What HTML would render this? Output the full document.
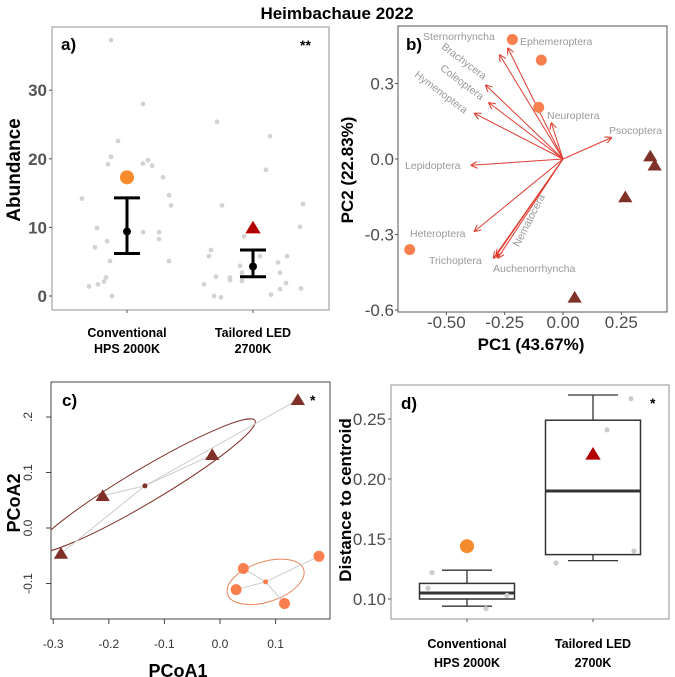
<!DOCTYPE html>
<html><head><meta charset="utf-8"><style>
body{margin:0;background:#fff;}
svg{display:block;font-family:"Liberation Sans",sans-serif;}
</style></head><body>
<svg id="fig" width="675" height="677" viewBox="0 0 675 677" xmlns="http://www.w3.org/2000/svg">
<text x="337" y="19" text-anchor="middle" font-size="17" font-weight="bold">Heimbachaue 2022</text>
<g id="pa"></g>
<g id="pb"></g>
<g id="pc"></g>
<g id="pd"></g>
</svg>
<script>
// ---------- Panel a data ----------
const aCats = ["Conventional|HPS 2000K", "Tailored LED|2700K"];
const aTicks = [0, 10, 20, 30];
const aMean = [9.4, 4.3];
const aLow = [6.2, 2.8];
const aHigh = [14.3, 6.7];
const aMarker = [17.3, 9.8];
const aConvVals = [37.3,28,22.6,20.3,19.2,19.3,19.8,19,17.3,14.2,14.7,13.2,9.9,9.3,9.3,8.3,8,7.1,5.1,5.1,2.7,2.1,1.7,1.4,0];
const aConvJit = [-16,16,-9,-16,-19,16,21,25,36,-45,42,44,-30,16,32,32,-20,-32,-17,42,-21,-23,-29,-38,-15];
const aLedVals = [25.4,23.3,18.4,13.4,13.2,10.1,8.7,6.7,5.8,5.8,5.8,4.9,4.4,3.4,3.4,2.8,2.7,2.3,2.2,1.9,1.7,1,1.1,0.2,0,-0.2];
const aLedJit = [-36,17,13,50,-31,47,-9,-42,-44,7,34,25,-13,-11,27,-37,-23,-23,-11,33,-49,27,48,18,-39,-32];
// ---------- Panel b data ----------
const bTicksX = [-0.5, -0.25, 0, 0.25];
const bTicksXLab = ["-0.50","-0.25","0.00","0.25"];
const bTicksY = [0.3, 0, -0.3, -0.6];
const bTicksYLab = ["0.3","0.0","-0.3","-0.6"];
const bSpecies = ["Sternorrhyncha","Ephemeroptera","Brachycera","Coleoptera","Hymenoptera","Neuroptera","Psocoptera","Lepidoptera","Heteroptera","Trichoptera","Auchenorrhyncha","Nematocera"];
const bArrowX = [-0.271,-0.236,-0.331,-0.317,-0.379,-0.05,0.207,-0.393,-0.379,-0.297,-0.279,-0.286];
const bArrowY = [0.413,0.44,0.293,0.223,0.181,0.143,0.085,-0.025,-0.287,-0.393,-0.393,-0.384];
const bHpsX = [-0.217,-0.093,-0.104,-0.657];
const bHpsY = [0.475,0.393,0.205,-0.36];
const bLedX = [0.374,0.393,0.267,0.05];
const bLedY = [0.011,-0.025,-0.151,-0.55];
// ---------- Panel c data ----------
const cTicksX = [-0.3,-0.2,-0.1,0.0,0.1];
const cTicksXLab = ["-0.3","-0.2","-0.1","0.0","0.1"];
const cTicksY = [0.2,0.1,0.0,-0.1];
const cTicksYLab = [".2","0.1","0.0","-0.1"];
const cLedX = [0.14,-0.014,-0.211,-0.286];
const cLedY = [0.231,0.132,0.058,-0.046];
const cLedCentroid = [-0.135,0.076];
const cHpsX = [0.178,0.042,0.029,0.116];
const cHpsY = [-0.051,-0.073,-0.111,-0.136];
const cHpsCentroid = [0.082,-0.097];
// ---------- Panel d data ----------
const dCats = ["Conventional|HPS 2000K", "Tailored LED|2700K"];
const dTicks = [0.10,0.15,0.20,0.25];
const dTickLab = ["0.10","0.15","0.20","0.25"];
const dQ1 = [0.100,0.137];
const dMed = [0.105,0.190];
const dQ3 = [0.113,0.249];
const dWLo = [0.094,0.132];
const dWHi = [0.124,0.270];
const dMean = [0.144,0.220];
const dPtsConv = [0.122,0.109,0.103,0.092];
const dPtsConvJit = [-35,-39,40,19];
const dPtsLed = [0.130,0.241,0.267,0.140];
const dPtsLedJit = [-37,14,38,41];

const NS="http://www.w3.org/2000/svg";
function mk(parent,tag,attrs,text){const e=document.createElementNS(NS,tag);for(const k in attrs)e.setAttribute(k,attrs[k]);if(text!==undefined)e.textContent=text;parent.appendChild(e);return e;}
function tri(cx,cy,s){return `${cx},${cy-s} ${cx-s*1.1},${cy+s*0.8} ${cx+s*1.1},${cy+s*0.8}`;}

// ===== Panel a =====
(function(){
const g=document.getElementById('pa');
const L=52,R=329,T=27,B=310;
const y=v=>296-6.86*v;
const xc=[127,253];
let f=mk(g,'rect',{x:L,y:T,width:R-L,height:B-T,fill:'none',stroke:'#aaa','stroke-width':1.3});

aTicks.forEach(t=>{let e=mk(g,'text',{x:47,y:y(t)+6,'text-anchor':'end','font-size':17,'font-weight':'bold',fill:'#555'},String(t));

mk(g,'line',{x1:L-3,x2:L,y1:y(t),y2:y(t),stroke:'#555'});});
let yt=mk(g,'text',{x:0,y:0,transform:'translate(20,170) rotate(-90)','text-anchor':'middle','font-size':19,'font-weight':'bold'},'Abundance');

aConvVals.forEach((v,i)=>{let c=mk(g,'circle',{cx:xc[0]+aConvJit[i],cy:y(v),r:2.4,fill:'#d3d3d3'});});
aLedVals.forEach((v,i)=>{let c=mk(g,'circle',{cx:xc[1]+aLedJit[i],cy:y(v),r:2.4,fill:'#d3d3d3'});});
aCats.forEach((c,i)=>{
  const x=xc[i];
  mk(g,'line',{x1:x,x2:x,y1:y(aLow[i]),y2:y(aHigh[i]),stroke:'#000','stroke-width':3});
  mk(g,'line',{x1:x-13,x2:x+13,y1:y(aLow[i]),y2:y(aLow[i]),stroke:'#000','stroke-width':3});
  mk(g,'line',{x1:x-13,x2:x+13,y1:y(aHigh[i]),y2:y(aHigh[i]),stroke:'#000','stroke-width':3});
  let m=mk(g,'circle',{cx:x,cy:y(aMean[i]),r:4,fill:'#000'});
  let mm = i===0? mk(g,'circle',{cx:x,cy:y(aMarker[i]),r:7,fill:'#f78a2a'}) : mk(g,'polygon',{points:tri(x,y(aMarker[i])-1,7),fill:'#b30000'});
  
  mk(g,'line',{x1:x,x2:x,y1:B,y2:B+3,stroke:'#555'});
  const p=c.split('|');
  let t1=mk(g,'text',{x:x,y:337,'text-anchor':'middle','font-size':12.5,'font-weight':'bold'},p[0]);
  let t2=mk(g,'text',{x:x,y:353,'text-anchor':'middle','font-size':12.5,'font-weight':'bold'},p[1]);
});
let pl=mk(g,'text',{x:61,y:50,'font-size':17,'font-weight':'bold'},'a)');
let sg=mk(g,'text',{x:300,y:50,'font-size':14,'font-weight':'bold'},'**');
})();

// ===== Panel b =====
(function(){
const g=document.getElementById('pb');
const L=398,R=667,T=26,B=312;
const x=v=>563+v*233.3, y=v=>159-v*251.7;
mk(g,'defs',{}).innerHTML='<marker id="ah" viewBox="0 0 10 10" refX="9" refY="5" markerWidth="7" markerHeight="7" orient="auto"><path d="M0,0 L10,5 L0,10" fill="none" stroke="#e03c31" stroke-width="1.5"/></marker>';
let f=mk(g,'rect',{x:L,y:T,width:R-L,height:B-T,fill:'none',stroke:'#555','stroke-width':1});

bTicksY.forEach((t,i)=>{let e=mk(g,'text',{x:394,y:y(t)+6,'text-anchor':'end','font-size':17,fill:'#4d4d4d'},bTicksYLab[i]);mk(g,'line',{x1:L-3,x2:L,y1:y(t),y2:y(t),stroke:'#555'});});
bTicksX.forEach((t,i)=>{let e=mk(g,'text',{x:x(t),y:328,'text-anchor':'middle','font-size':17,fill:'#4d4d4d'},bTicksXLab[i]);mk(g,'line',{x1:x(t),x2:x(t),y1:B,y2:B+3,stroke:'#555'});});
let yt=mk(g,'text',{x:0,y:0,transform:'translate(353,170) rotate(-90)','text-anchor':'middle','font-size':17,'font-weight':'bold'},'PC2 (22.83%)');
let xt=mk(g,'text',{x:531,y:350,'text-anchor':'middle','font-size':17,'font-weight':'bold'},'PC1 (43.67%)');
bSpecies.forEach((s,i)=>{let a=mk(g,'line',{x1:x(0),y1:y(0),x2:x(bArrowX[i]),y2:y(bArrowY[i]),stroke:'#e03c31','stroke-width':1,'marker-end':'url(#ah)'});});
const labs=[["Sternorrhyncha",423,40,0],["Ephemeroptera",520,45,0],["Brachycera",462,64,37],["Coleoptera",460,85,37],["Hymenoptera",439,95,37],["Neuroptera",547,119,0],["Psocoptera",609,134,0],["Lepidoptera",405,169,0],["Heteroptera",410,237,0],["Trichoptera",429,264,0],["Auchenorrhyncha",493,272,0],["Nematocera",532,222,-63]];
labs.forEach(l=>{let t;if(l[3]){t=mk(g,'text',{x:0,y:0,transform:`translate(${l[1]},${l[2]}) rotate(${l[3]})`,'text-anchor':'middle','font-size':10.5,fill:'#999'},l[0]);}else{t=mk(g,'text',{x:l[1],y:l[2],'font-size':10.5,fill:'#999'},l[0]);}});
bHpsX.forEach((v,i)=>{let c=mk(g,'circle',{cx:x(v),cy:y(bHpsY[i]),r:5.5,fill:'#f97f4f'});});
bLedX.forEach((v,i)=>{let c=mk(g,'polygon',{points:tri(x(v),y(bLedY[i]),6.5),fill:'#7f3128'});});
let pl=mk(g,'text',{x:406,y:50,'font-size':17,'font-weight':'bold'},'b)');
})();

// ===== Panel c =====
(function(){
const g=document.getElementById('pc');
const L=51,R=330,T=382,B=619;
const x=v=>220+v*556, y=v=>528-v*555;
mk(g,'defs',{}).innerHTML='<clipPath id="cc"><rect x="51" y="382" width="279" height="237"/></clipPath>';
let f=mk(g,'rect',{x:L,y:T,width:R-L,height:B-T,fill:'none',stroke:'#444','stroke-width':1});
cTicksY.forEach((t,i)=>{let e=mk(g,'text',{x:0,y:0,transform:`translate(32,${y(t)}) rotate(-90)`,'text-anchor':'middle','font-size':12,fill:'#333'},cTicksYLab[i]);mk(g,'line',{x1:L-5,x2:L,y1:y(t),y2:y(t),stroke:'#444'});});
cTicksX.forEach((t,i)=>{let e=mk(g,'text',{x:x(t),y:648,'text-anchor':'middle','font-size':12,fill:'#333'},cTicksXLab[i]);mk(g,'line',{x1:x(t),x2:x(t),y1:B,y2:B+5,stroke:'#444'});});
let yt=mk(g,'text',{x:0,y:0,transform:'translate(20,503) rotate(-90)','text-anchor':'middle','font-size':18,'font-weight':'bold'},'PCoA2');
let xt=mk(g,'text',{x:178,y:677,'text-anchor':'middle','font-size':18,'font-weight':'bold'},'PCoA1');
const cg=mk(g,'g',{'clip-path':'url(#cc)'});
const lc=[x(cLedCentroid[0]),y(cLedCentroid[1])], hc=[x(cHpsCentroid[0]),y(cHpsCentroid[1])];
let e1=mk(cg,'ellipse',{cx:lc[0],cy:lc[1],rx:128,ry:17,transform:`rotate(-30.7 ${lc[0]} ${lc[1]})`,fill:'none',stroke:'#7f3128','stroke-width':1});
let e2=mk(cg,'ellipse',{cx:hc[0],cy:hc[1],rx:40,ry:20,transform:`rotate(-18 ${hc[0]} ${hc[1]})`,fill:'none',stroke:'#e8865e','stroke-width':1});
cLedX.forEach((v,i)=>mk(cg,'line',{x1:lc[0],y1:lc[1],x2:x(v),y2:y(cLedY[i]),stroke:'#ccc','stroke-width':1}));
cHpsX.forEach((v,i)=>mk(cg,'line',{x1:hc[0],y1:hc[1],x2:x(v),y2:y(cHpsY[i]),stroke:'#ccc','stroke-width':1}));
let d1=mk(g,'circle',{cx:lc[0],cy:lc[1],r:2.5,fill:'#7f3128'});
let d2=mk(g,'circle',{cx:hc[0],cy:hc[1],r:2.5,fill:'#f97f4f'});
cLedX.forEach((v,i)=>{let c=mk(g,'polygon',{points:tri(x(v),y(cLedY[i]),6.5),fill:'#7f3128'});});
cHpsX.forEach((v,i)=>{let c=mk(g,'circle',{cx:x(v),cy:y(cHpsY[i]),r:5.5,fill:'#f97f4f'});});
let pl=mk(g,'text',{x:62,y:406,'font-size':17,'font-weight':'bold'},'c)');
let sg=mk(g,'text',{x:310,y:405,'font-size':14,'font-weight':'bold'},'*');
})();

// ===== Panel d =====
(function(){
const g=document.getElementById('pd');
const L=391,R=669,T=385,B=619;
const y=v=>599-(v-0.10)*1200;
const xc=[467,593];
let f=mk(g,'rect',{x:L,y:T,width:R-L,height:B-T,fill:'none',stroke:'#aaa','stroke-width':1.3});
dTicks.forEach((t,i)=>{let e=mk(g,'text',{x:386,y:y(t)+6,'text-anchor':'end','font-size':17,fill:'#4d4d4d'},dTickLab[i]);mk(g,'line',{x1:L-3,x2:L,y1:y(t),y2:y(t),stroke:'#555'});});
let yt=mk(g,'text',{x:0,y:0,transform:'translate(351,500) rotate(-90)','text-anchor':'middle','font-size':17,'font-weight':'bold'},'Distance to centroid');
dCats.forEach((c,i)=>{
  const x=xc[i], hw=47.5, cw=25;
  mk(g,'line',{x1:x,x2:x,y1:y(dWLo[i]),y2:y(dQ1[i]),stroke:'#333','stroke-width':1.3});
  mk(g,'line',{x1:x,x2:x,y1:y(dWHi[i]),y2:y(dQ3[i]),stroke:'#333','stroke-width':1.3});
  mk(g,'line',{x1:x-cw,x2:x+cw,y1:y(dWLo[i]),y2:y(dWLo[i]),stroke:'#333','stroke-width':1.3});
  mk(g,'line',{x1:x-cw,x2:x+cw,y1:y(dWHi[i]),y2:y(dWHi[i]),stroke:'#333','stroke-width':1.3});
  let bx=mk(g,'rect',{x:x-hw,y:y(dQ3[i]),width:2*hw,height:y(dQ1[i])-y(dQ3[i]),fill:'#fff',stroke:'#333','stroke-width':1.5});
  let md=mk(g,'line',{x1:x-hw,x2:x+hw,y1:y(dMed[i]),y2:y(dMed[i]),stroke:'#333','stroke-width':3});
  mk(g,'line',{x1:x,x2:x,y1:B,y2:B+3,stroke:'#555'});
  const p=c.split('|');
  let t1=mk(g,'text',{x:x,y:648,'text-anchor':'middle','font-size':12.5,'font-weight':'bold'},p[0]);
  let t2=mk(g,'text',{x:x,y:667,'text-anchor':'middle','font-size':12.5,'font-weight':'bold'},p[1]);
});
dPtsConv.forEach((v,i)=>{let c=mk(g,'circle',{cx:xc[0]+dPtsConvJit[i],cy:y(v),r:2.6,fill:'#ccc'});});
dPtsLed.forEach((v,i)=>{let c=mk(g,'circle',{cx:xc[1]+dPtsLedJit[i],cy:y(v),r:2.6,fill:'#ccc'});});
let m1=mk(g,'circle',{cx:xc[0],cy:y(dMean[0]),r:7,fill:'#f78a2a'});
let m2=mk(g,'polygon',{points:tri(xc[1],y(dMean[1])-1,7),fill:'#b30000'});
let pl=mk(g,'text',{x:401,y:409,'font-size':17,'font-weight':'bold'},'d)');
let sg=mk(g,'text',{x:650,y:408,'font-size':14,'font-weight':'bold'},'*');
})();
</script>
</body></html>
